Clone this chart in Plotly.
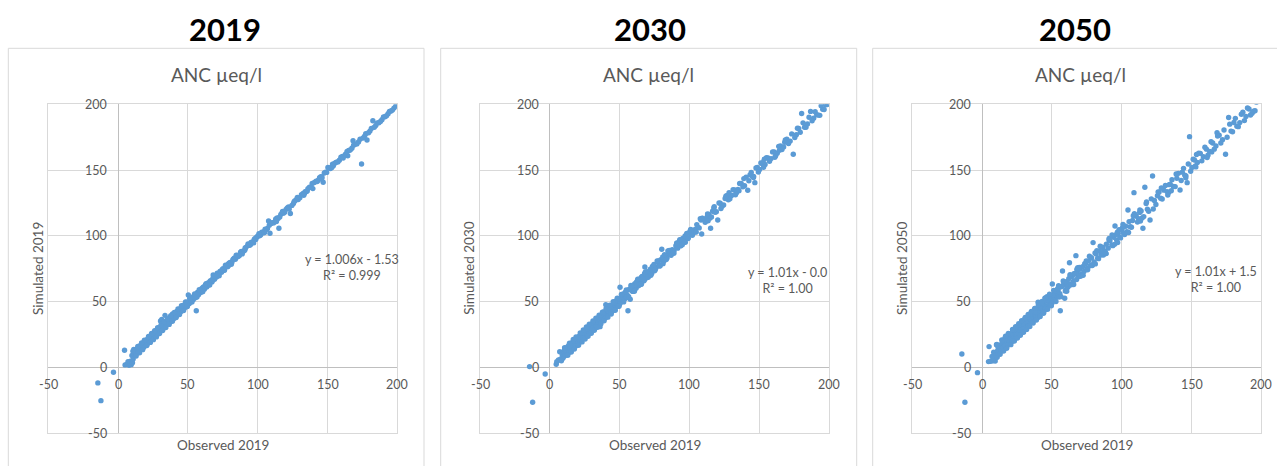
import plotly.graph_objects as go

W, H = 1277, 466

# Observed ANC 2019 (µeq/l), shared x values for all three panels
observed_2019 = [
    -14.5, -3.3, -12.3, 4.6, 5.0, 6.2, 7.1, 7.8, 8.3, 8.9,
    9.4, 9.9, 10.3, 10.8, 11.2, 11.7, 12.1, 12.6, 13.0, 13.4,
    13.9, 14.3, 14.8, 15.2, 15.6, 16.1, 16.5, 16.9, 17.4, 17.8,
    18.2, 18.6, 19.1, 19.5, 19.9, 20.3, 20.8, 21.2, 21.6, 22.0,
    22.5, 22.9, 23.3, 23.8, 24.2, 24.6, 25.1, 25.5, 25.9, 26.4,
    26.8, 27.2, 27.7, 28.1, 28.6, 29.0, 29.5, 29.9, 30.4, 30.8,
    31.3, 31.7, 32.2, 32.7, 33.1, 33.6, 34.1, 34.6, 35.0, 35.5,
    36.0, 36.5, 37.0, 37.5, 38.0, 38.5, 39.0, 39.5, 40.1, 40.6,
    41.1, 41.7, 42.2, 42.8, 43.3, 43.9, 44.5, 45.0, 45.6, 46.2,
    46.8, 47.4, 48.0, 48.6, 49.2, 49.9, 50.3, 51.0, 51.7, 52.4,
    53.1, 53.8, 54.5, 55.3, 56.0, 56.8, 57.6, 58.4, 59.2, 60.0,
    60.9, 61.8, 62.6, 63.5, 64.4, 65.3, 66.2, 67.2, 68.1, 69.1,
    70.0, 71.0, 72.0, 73.0, 74.1, 75.1, 76.2, 77.3, 78.4, 79.5,
    80.2, 81.6, 82.8, 84.0, 85.2, 86.5, 87.7, 89.0, 90.3, 91.6,
    92.9, 94.3, 95.2, 96.4, 97.5, 98.6, 99.8, 101.3, 102.9, 104.5,
    106.1, 107.8, 108.8, 110.4, 112.1, 113.9, 115.2, 116.6, 118.4, 120.3,
    122.1, 123.4, 125.6, 127.9, 130.2, 132.5, 134.8, 137.1, 139.5, 141.8,
    143.4, 145.2, 146.9, 148.6, 150.3, 152.1, 154.2, 156.3, 158.5, 160.7,
    162.9, 165.2, 167.5, 169.8, 172.2, 174.4, 176.6, 178.3, 180.4, 182.5,
    184.6, 186.8, 189.0, 191.2, 193.4, 195.5, 197.6, 198.8, 24.0, 27.9,
    12.4, 15.9, 18.9, 21.9, 23.6, 25.7, 28.9, 30.1, 32.4, 34.9,
    36.8, 38.8, 41.4, 43.6, 47.1, 14.6, 17.1, 19.6, 22.2, 26.1,
    29.3, 33.4, 37.8, 44.9, 50.6, 55.7, 16.7, 20.5, 24.9, 31.0,
    168.3, 164.5, 57.2, 61.3, 66.7, 85.9, 96.0, 112.9, 134.0, 152.8,
    60.4, 62.1, 63.9, 65.8, 67.7, 69.6, 71.5, 73.5, 75.6, 77.8,
    79.0, 80.9, 83.4, 85.6, 88.3, 90.9, 93.6, 96.9, 99.2, 100.6,
    103.7, 105.3, 107.0, 109.6, 111.3, 113.0, 114.6, 117.5, 119.3, 121.2,
    124.5, 126.7, 129.0, 131.3, 133.6, 136.0, 138.3, 140.6, 142.6, 144.3,
    146.0, 147.7, 149.4, 151.2, 153.1, 155.2, 157.4, 159.6, 161.8, 164.0,
    166.3, 168.7, 171.0, 173.3, 175.5, 177.4, 179.4, 181.4, 183.5, 185.7,
    187.9, 190.1, 192.3, 194.4, 196.5, 43.0, 45.3, 47.7, 50.0, 52.7,
    54.1, 55.0, 58.8, 59.6, 63.1, 64.9, 67.9, 70.5, 74.6, 78.9,
    82.2, 86.9, 91.0, 94.9, 98.1, 102.1, 108.3, 115.8, 126.1, 135.5,
    11.0, 13.6, 16.3, 18.4, 20.1, 21.4, 23.0, 24.4, 26.6, 28.4,
    30.6, 32.9, 34.4, 36.2, 38.2, 39.8, 42.0, 44.2, 46.5, 48.9,
    10.6, 12.9, 14.1, 15.4, 16.8, 17.6, 18.8, 20.6, 21.8, 23.1,
    24.0, 25.3, 26.2, 27.4, 28.3, 29.7, 30.9, 31.9, 33.0, 34.2,
    35.3, 36.6, 37.7, 38.9, 40.3, 41.6, 42.9, 44.0, 45.4, 46.9,
    48.3, 49.6, 51.3, 52.9, 54.8, 56.5, 58.1, 60.6, 63.0, 65.6,
    68.5, 72.4, 76.9, 81.1, 84.6, 88.9, 93.1, 97.1, 100.9, 104.9,
    109.1, 113.4, 117.8, 122.6, 128.4, 133.0, 139.0, 145.9, 153.6, 161.2,
]

simulated_2019 = [
    -11.9, -3.8, -25.4, 12.9, 1.8, 2.2, 4.3, 1.5, 2.4, 4.6,
    2.0, 8.9, 3.5, 6.2, 13.6, 9.5, 11.8, 10.4, 12.9, 10.8,
    14.1, 11.6, 15.2, 12.7, 15.9, 13.3, 16.8, 14.2, 17.5, 15.1,
    18.4, 15.9, 19.2, 17.0, 20.1, 18.0, 21.0, 18.6, 21.9, 19.5,
    22.7, 20.2, 23.4, 21.3, 24.0, 22.1, 25.2, 22.9, 26.1, 23.8,
    26.9, 24.6, 27.5, 25.6, 28.3, 26.4, 29.6, 27.3, 35.2, 28.2,
    36.4, 29.1, 32.0, 30.3, 34.6, 39.5, 31.7, 35.1, 32.5, 35.6,
    36.2, 33.8, 37.9, 35.0, 38.1, 35.9, 40.6, 36.8, 40.2, 38.0,
    41.3, 39.0, 42.4, 40.2, 43.6, 41.2, 44.5, 42.4, 45.8, 43.5,
    46.9, 44.8, 48.2, 46.1, 49.4, 47.3, 55.0, 48.5, 51.8, 50.0,
    53.0, 51.4, 54.6, 52.8, 43.0, 56.9, 55.2, 58.5, 56.8, 60.0,
    60.8, 59.4, 62.6, 61.0, 64.1, 63.0, 65.9, 64.9, 70.2, 66.9,
    69.5, 71.6, 70.1, 72.8, 72.2, 74.9, 73.8, 77.0, 76.4, 79.1,
    79.8, 80.0, 82.5, 82.2, 85.0, 84.7, 87.5, 87.2, 88.6, 91.2,
    92.6, 92.8, 94.9, 95.0, 97.3, 97.1, 99.5, 100.0, 102.7, 103.1,
    104.8, 111.2, 101.9, 109.9, 110.6, 113.6, 105.7, 116.3, 117.2, 120.1,
    121.9, 117.0, 124.5, 127.6, 129.0, 132.2, 133.7, 136.9, 135.9, 141.6,
    142.3, 144.9, 140.7, 148.4, 152.0, 151.1, 153.3, 156.0, 157.5, 160.4,
    162.0, 164.9, 166.6, 169.6, 171.3, 154.6, 175.8, 172.8, 179.6, 187.5,
    183.9, 186.0, 188.3, 190.5, 192.8, 194.9, 197.1, 198.5, 23.9, 25.2,
    12.2, 16.0, 16.3, 21.8, 20.9, 25.5, 26.2, 29.7, 29.9, 32.4,
    34.4, 38.6, 39.1, 43.4, 45.0, 14.3, 14.9, 19.0, 20.0, 25.6,
    27.0, 33.2, 35.6, 44.2, 48.3, 55.4, 16.4, 18.3, 24.4, 30.6,
    172.3, 160.9, 56.3, 60.2, 65.4, 84.8, 95.2, 112.3, 133.5, 152.1,
    58.6, 61.6, 62.1, 65.3, 66.0, 69.3, 70.0, 73.1, 73.8, 77.4,
    78.6, 79.2, 83.1, 84.0, 88.0, 89.3, 93.2, 95.3, 98.9, 100.3,
    102.2, 105.0, 105.5, 109.4, 109.8, 112.8, 113.1, 117.4, 117.9, 121.1,
    123.1, 126.6, 127.6, 131.2, 132.3, 135.9, 137.0, 140.5, 141.3, 144.2,
    144.7, 147.7, 148.2, 151.3, 151.9, 155.2, 156.2, 159.7, 160.6, 164.1,
    165.2, 168.8, 169.9, 173.4, 174.4, 177.6, 178.4, 181.6, 182.5, 185.9,
    186.9, 190.3, 191.3, 194.6, 195.6, 42.5, 43.1, 47.3, 47.9, 52.3,
    53.6, 53.1, 58.3, 57.8, 62.7, 63.1, 67.5, 68.7, 74.2, 77.1,
    81.9, 85.2, 90.7, 93.3, 97.9, 100.5, 108.1, 114.3, 126.0, 134.1,
    11.8, 10.6, 16.9, 15.2, 20.6, 18.2, 23.4, 21.3, 27.1, 25.3,
    31.2, 30.0, 34.8, 33.4, 38.6, 37.0, 42.3, 41.5, 46.8, 46.2,
    12.3, 8.6, 15.8, 11.0, 18.5, 13.4, 20.6, 16.5, 23.4, 18.9,
    25.7, 21.0, 27.9, 23.1, 30.0, 25.6, 32.5, 27.9, 34.6, 30.2,
    36.8, 32.6, 39.2, 34.9, 41.7, 37.8, 44.3, 40.1, 46.8, 43.1,
    49.6, 46.2, 52.4, 49.6, 55.7, 53.4, 58.9, 57.5, 63.6, 62.6,
    69.3, 69.6, 77.6, 78.4, 85.3, 86.2, 93.8, 94.6, 101.6, 102.4,
    109.8, 110.9, 118.5, 120.3, 129.1, 130.8, 139.8, 143.7, 154.5, 159.1,
]

simulated_2030 = [
    0.5, -5.1, -26.6, 2.3, 4.2, 5.5, 11.8, 6.3, 4.9, 9.6,
    6.8, 12.1, 8.4, 13.5, 9.2, 14.6, 10.1, 12.9, 15.8, 11.7,
    16.9, 12.5, 15.3, 18.1, 13.9, 17.2, 14.6, 19.6, 15.5, 18.7,
    16.2, 20.9, 17.4, 21.8, 18.6, 22.9, 19.2, 23.6, 20.0, 24.1,
    20.9, 25.1, 21.6, 26.0, 22.8, 26.9, 23.4, 27.8, 24.5, 28.3,
    25.0, 29.6, 26.1, 30.8, 27.2, 31.5, 28.0, 32.3, 28.9, 33.0,
    29.6, 34.1, 30.4, 34.9, 31.2, 35.8, 32.6, 36.4, 33.1, 37.2,
    30.9, 38.8, 35.2, 39.9, 36.3, 42.1, 37.4, 41.6, 47.5, 39.1,
    39.6, 44.0, 40.5, 45.3, 41.8, 46.2, 42.9, 47.4, 44.0, 48.6,
    45.1, 49.8, 46.4, 50.9, 47.6, 52.0, 60.8, 49.7, 54.3, 51.0,
    55.5, 52.2, 56.8, 53.7, 43.0, 58.9, 51.7, 60.7, 57.9, 62.4,
    63.6, 60.1, 65.4, 61.9, 67.2, 63.8, 69.1, 65.7, 76.3, 67.9,
    72.4, 69.6, 74.5, 71.3, 76.8, 73.4, 75.9, 79.8, 77.3, 81.9,
    89.7, 80.7, 84.9, 83.1, 87.3, 85.8, 89.5, 88.7, 92.4, 90.6,
    95.6, 93.0, 97.9, 95.2, 100.1, 97.8, 102.3, 101.0, 104.2, 105.0,
    106.4, 113.0, 101.4, 112.6, 111.5, 116.2, 105.7, 118.6, 117.9, 112.0,
    124.8, 122.5, 128.3, 127.4, 130.6, 134.9, 135.2, 139.8, 138.1, 134.6,
    146.3, 145.1, 140.4, 151.9, 150.4, 155.0, 154.3, 159.2, 158.7, 163.8,
    162.8, 168.3, 167.6, 173.4, 172.0, 162.0, 176.9, 181.7, 193.0, 182.6,
    185.1, 194.6, 189.4, 192.0, 191.6, 196.2, 199.6, 199.8, 25.8, 26.3,
    14.0, 14.3, 20.4, 20.5, 25.3, 24.4, 30.6, 27.9, 34.3, 32.9,
    38.7, 37.5, 43.2, 42.1, 49.1, 16.1, 15.9, 21.2, 23.9, 24.8,
    31.2, 32.1, 39.6, 43.8, 52.7, 54.6, 18.3, 19.4, 26.8, 30.0,
    171.1, 165.0, 59.4, 62.5, 66.1, 87.9, 95.8, 114.9, 133.6, 155.8,
    58.9, 64.6, 62.8, 68.7, 66.1, 72.5, 70.4, 76.6, 74.3, 80.8,
    77.4, 83.9, 82.0, 88.8, 87.0, 94.1, 92.3, 99.9, 98.1, 103.7,
    102.6, 108.5, 106.0, 113.1, 110.2, 116.6, 113.4, 121.2, 118.3, 124.9,
    123.5, 130.4, 128.1, 135.0, 132.6, 139.8, 137.2, 144.6, 141.9, 148.1,
    145.2, 151.6, 148.5, 155.3, 152.1, 159.4, 156.6, 163.8, 160.9, 168.0,
    165.6, 172.9, 170.1, 177.5, 174.8, 181.8, 178.7, 185.9, 182.6, 190.2,
    187.4, 194.3, 191.8, 198.9, 196.1, 45.9, 43.2, 50.7, 47.9, 55.8,
    57.1, 53.0, 61.9, 57.7, 66.3, 62.9, 71.3, 68.5, 78.2, 77.0,
    85.6, 85.1, 94.6, 93.2, 101.8, 100.4, 112.0, 114.3, 130.1, 134.2,
    13.4, 11.2, 18.9, 16.0, 22.7, 19.1, 25.8, 22.0, 29.5, 26.1,
    33.6, 30.7, 37.3, 33.9, 41.2, 37.5, 45.1, 41.8, 49.8, 46.5,
    14.9, 9.1, 18.3, 11.6, 21.2, 13.9, 23.1, 16.7, 26.1, 19.3,
    28.3, 21.5, 30.6, 23.6, 32.7, 25.9, 35.3, 28.1, 37.4, 30.4,
    39.6, 33.1, 41.9, 35.4, 44.5, 38.1, 47.2, 40.5, 49.8, 43.4,
    52.5, 46.4, 55.3, 49.7, 58.8, 53.6, 62.2, 57.8, 67.0, 63.1,
    72.4, 70.0, 80.8, 78.8, 88.5, 86.7, 97.1, 95.0, 104.9, 102.8,
    113.3, 111.4, 122.1, 120.7, 132.8, 131.2, 143.5, 144.3, 158.2, 159.7,
]

simulated_2050 = [
    10.1, -4.1, -26.6, 4.3, 15.7, 4.6, 8.2, 5.0, 11.4, 6.1,
    4.8, 9.3, 17.2, 7.6, 12.9, 10.1, 15.4, 13.6, 11.8, 16.9,
    13.4, 18.2, 14.9, 19.6, 16.0, 20.4, 17.1, 21.3, 17.6, 22.0,
    18.0, 22.8, 19.4, 23.9, 20.2, 24.5, 21.0, 25.6, 21.8, 26.1,
    22.1, 27.0, 23.2, 28.3, 24.1, 29.0, 25.3, 30.1, 26.0, 31.2,
    26.5, 31.8, 27.6, 32.5, 28.4, 33.6, 29.2, 34.4, 30.3, 35.1,
    31.0, 36.2, 32.1, 37.0, 32.8, 37.9, 33.6, 38.8, 34.7, 39.6,
    35.7, 40.6, 36.8, 41.9, 37.7, 42.8, 38.6, 44.0, 49.4, 40.7,
    41.2, 45.9, 42.3, 47.0, 43.0, 48.1, 44.4, 52.6, 45.6, 50.3,
    46.9, 51.7, 48.1, 52.8, 49.3, 54.2, 63.3, 51.1, 56.4, 52.5,
    57.6, 53.9, 58.8, 55.4, 43.0, 61.2, 73.2, 62.8, 52.5, 64.0,
    65.2, 61.7, 79.5, 63.4, 68.9, 65.2, 70.7, 84.9, 72.6, 69.0,
    74.6, 70.8, 76.5, 72.9, 78.7, 75.1, 80.9, 77.2, 83.1, 94.8,
    80.1, 86.2, 83.0, 88.5, 85.4, 91.1, 88.0, 93.6, 90.6, 96.3,
    93.1, 98.9, 107.4, 96.7, 101.9, 99.0, 104.6, 102.2, 107.3, 119.6,
    106.9, 111.6, 132.8, 114.9, 112.9, 118.8, 105.7, 136.9, 120.2, 112.0,
    145.5, 126.8, 130.5, 128.6, 134.7, 133.6, 139.2, 137.5, 143.8, 134.8,
    148.4, 146.1, 140.4, 175.4, 152.0, 157.6, 155.8, 162.7, 160.1, 165.9,
    164.2, 170.6, 168.3, 176.5, 173.1, 162.0, 190.0, 179.6, 186.2, 183.4,
    186.1, 193.9, 190.8, 196.4, 193.2, 195.1, 203.5, 204.8, 27.3, 28.1,
    12.0, 15.8, 22.7, 21.5, 27.4, 25.6, 32.8, 29.9, 36.3, 34.6,
    40.9, 38.5, 45.4, 43.3, 51.2, 14.3, 20.7, 19.1, 25.9, 25.6,
    33.2, 33.1, 41.8, 44.7, 54.9, 56.0, 16.4, 24.3, 24.5, 35.0,
    178.4, 163.8, 61.5, 60.9, 71.4, 86.0, 100.9, 117.8, 138.9, 153.1,
    59.3, 67.4, 62.7, 71.2, 66.8, 75.9, 70.1, 78.8, 74.2, 83.6,
    78.0, 86.9, 82.6, 91.4, 87.6, 96.8, 92.5, 102.7, 98.4, 106.2,
    103.1, 110.8, 106.5, 115.9, 110.4, 119.7, 113.6, 124.6, 118.7, 128.1,
    123.8, 133.1, 128.0, 138.2, 132.9, 142.7, 137.4, 147.5, 142.0, 151.3,
    145.6, 154.6, 149.1, 158.3, 152.4, 162.9, 157.0, 167.4, 161.2, 171.5,
    165.9, 175.8, 170.6, 180.4, 174.9, 184.9, 179.1, 189.3, 183.0, 192.4,
    187.6, 197.2, 191.9, 194.8, 201.5, 48.3, 44.0, 53.1, 48.6, 58.2,
    59.8, 53.4, 64.9, 58.0, 69.6, 63.1, 74.5, 69.2, 80.9, 77.4,
    88.6, 85.4, 97.9, 93.5, 104.7, 100.9, 115.2, 114.6, 133.4, 134.3,
    16.3, 12.4, 21.9, 16.8, 25.3, 19.6, 28.5, 22.4, 32.1, 26.6,
    36.7, 31.1, 40.6, 34.3, 44.8, 37.6, 48.7, 42.0, 53.6, 46.9,
    17.4, 9.9, 20.8, 12.3, 23.6, 14.4, 25.8, 17.2, 28.7, 19.9,
    30.9, 22.3, 33.2, 24.4, 35.4, 26.6, 37.9, 28.8, 40.1, 31.0,
    42.5, 33.7, 44.8, 35.9, 47.6, 38.6, 50.1, 41.0, 52.7, 44.1,
    55.6, 46.8, 58.5, 50.0, 62.0, 53.7, 65.6, 57.8, 70.4, 63.0,
    75.8, 69.9, 84.5, 78.6, 92.1, 86.4, 100.7, 94.8, 108.6, 102.5,
    116.8, 111.2, 125.7, 120.4, 136.4, 131.0, 147.0, 144.1, 161.8, 159.5,
]

years = ["2019", "2030", "2050"]
simulated = [simulated_2019, simulated_2030, simulated_2050]
y_titles = ["Simulated 2019", "Simulated 2030", "Simulated 2050"]
x_title = "Observed 2019"
chart_title = "ANC µeq/l"
equations = [
    "y = 1.006x - 1.53<br>R² = 0.999",
    "y = 1.01x - 0.0<br>R² = 1.00",
    "y = 1.01x + 1.5<br>R² = 1.00",
]
tick_values = [-50, 0, 50, 100, 150, 200]
tick_labels = ["-50", "0", "50", "100", "150", "200"]

# Page geometry (pixels)
plot_left = [48.3, 480.0, 912.3]
plot_right = [397.3, 829.0, 1261.3]
plot_top, plot_bottom = 104.3, 433.0
box_left = [8.3, 440.7, 872.7]
box_right = [424.0, 856.7, 1295.0]
box_top = 48.3
year_x = [225.0, 650.0, 1075.0]
eq_pos = [(352.4, 267.2), (787.0, 280.0), (1215.7, 279.0)]

FONT = "Lato, 'Open Sans', sans-serif"
GREY = "#595959"
BLUE = "#5B9BD5"


def px(x):
    return x / W


def py(y):
    return 1 - y / H


fig = go.Figure()
annotations = []
shapes = []

for i in range(3):
    n = "" if i == 0 else str(i + 1)
    xa, ya = "x" + n, "y" + n

    fig.add_trace(go.Scatter(
        x=observed_2019, y=simulated[i], mode="markers",
        marker=dict(color=BLUE, size=5.4, line=dict(width=0)),
        xaxis=xa, yaxis=ya, showlegend=False, cliponaxis=True,
    ))

    axis_common = dict(
        range=[-50, 200], tickvals=tick_values, showticklabels=False,
        ticks="", showgrid=True, gridcolor="#d9d9d9", gridwidth=1,
        zeroline=True, zerolinecolor="#bfbfbf", zerolinewidth=1,
        showline=True, mirror=True, linecolor="#d9d9d9", linewidth=1,
        fixedrange=True,
    )
    fig.layout["xaxis" + n] = dict(
        axis_common, domain=[px(plot_left[i]), px(plot_right[i])], anchor=ya,
    )
    fig.layout["yaxis" + n] = dict(
        axis_common, domain=[py(plot_bottom), py(plot_top)], anchor=xa,
    )

    # tick labels sit next to the axes that cross at zero
    for v, lab in zip(tick_values, tick_labels):
        annotations.append(dict(
            x=v, y=0, xref=xa, yref=ya, text=lab, showarrow=False,
            xanchor="center", yanchor="middle", yshift=-17.5,
            font=dict(family=FONT, size=12.5, color=GREY),
        ))
        annotations.append(dict(
            x=0, y=v, xref=xa, yref=ya, text=lab, showarrow=False,
            xanchor="right", yanchor="middle", xshift=-9,
            font=dict(family=FONT, size=12.5, color=GREY),
        ))

    # chart frame
    shapes.append(dict(
        type="rect", xref="paper", yref="paper",
        x0=px(box_left[i]), x1=px(box_right[i]), y0=-0.2, y1=py(box_top),
        line=dict(color="#d9d9d9", width=1), fillcolor="rgba(0,0,0,0)",
        layer="below",
    ))

    cx = (box_left[i] + min(box_right[i], box_left[i] + 416)) / 2
    annotations += [
        dict(x=px(year_x[i]), y=py(29), xref="paper", yref="paper",
             text="<b>" + years[i] + "</b>", showarrow=False,
             xanchor="center", yanchor="middle",
             font=dict(family=FONT, size=31, color="#000000")),
        dict(x=px(cx), y=py(74), xref="paper", yref="paper",
             text=chart_title, showarrow=False,
             xanchor="center", yanchor="middle",
             font=dict(family=FONT, size=19, color=GREY)),
        dict(x=px((plot_left[i] + plot_right[i]) / 2), y=py(445),
             xref="paper", yref="paper", text=x_title, showarrow=False,
             xanchor="center", yanchor="middle",
             font=dict(family=FONT, size=13.5, color=GREY)),
        dict(x=px(plot_left[i] - 11), y=py((plot_top + plot_bottom) / 2),
             xref="paper", yref="paper", text=y_titles[i], showarrow=False,
             textangle=-90, xanchor="center", yanchor="middle",
             font=dict(family=FONT, size=13.5, color=GREY)),
        dict(x=px(eq_pos[i][0]), y=py(eq_pos[i][1]), xref="paper",
             yref="paper", text=equations[i], showarrow=False,
             xanchor="center", yanchor="middle", align="center",
             font=dict(family=FONT, size=12.5, color=GREY)),
    ]

fig.update_layout(
    width=W, height=H, margin=dict(l=0, r=0, t=0, b=0),
    paper_bgcolor="white", plot_bgcolor="white",
    annotations=annotations, shapes=shapes, hovermode=False,
)

fig.write_html("out.html", config={"displayModeBar": False})
